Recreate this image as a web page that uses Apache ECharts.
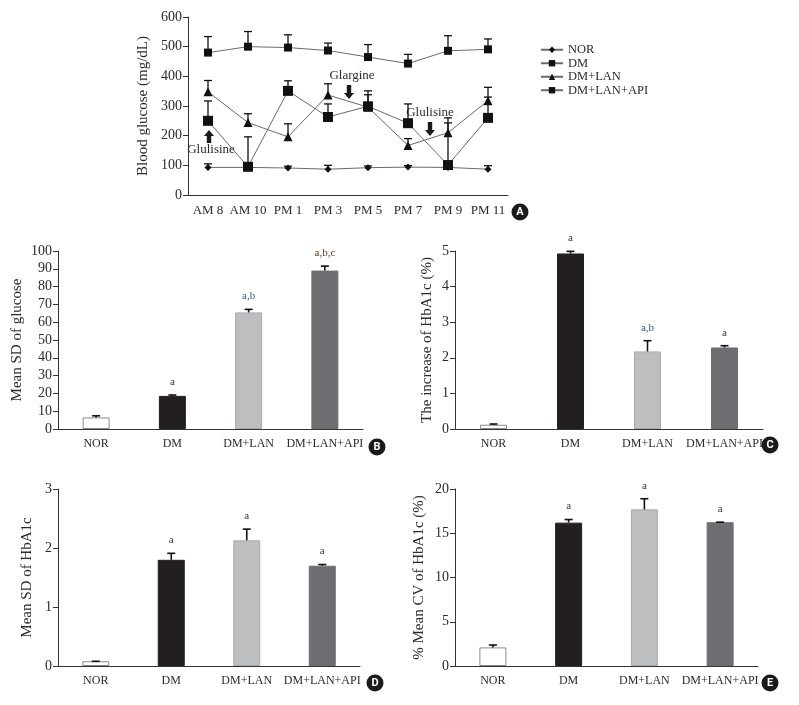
<!DOCTYPE html>
<html lang="en">
<head>
<meta charset="UTF-8">
<title>Glucose and HbA1c</title>
<style>
  html, body { margin: 0; padding: 0; background: #fff; }
  #main { width: 799px; height: 705px; }
</style>
<script src="https://cdn.jsdelivr.net/npm/echarts@6/dist/echarts.min.js"></script>
</head>
<body>
<div id="main"></div>
<script>
// A: daily glucose profile (mean and top of error bar)
const times = ['AM 8', 'AM 10', 'PM 1', 'PM 3', 'PM 5', 'PM 7', 'PM 9', 'PM 11'];
const groups = ['NOR', 'DM', 'DM+LAN', 'DM+LAN+API'];
const norMean = [93, 93, 91, 87, 92, 94, 93, 87];
const norTop = [105, 98, 97, 100, 98, 99, 98, 99];
const dmMean = [480, 500, 497, 487, 465, 443, 486, 491];
const dmTop = [534, 551, 540, 512, 507, 474, 537, 526];
const lanMean = [348, 244, 196, 337, 296, 167, 210, 318];
const lanTop = [386, 274, 240, 375, 351, 190, 243, 363];
const apiMean = [250, 95, 351, 263, 299, 242, 101, 260];
const apiTop = [317, 196, 385, 307, 338, 307, 260, 330];

// B-E: bar panels
const sdGlucose = [6.5, 18.6, 65.5, 89];
const sdGlucoseTop = [7.4, 19.1, 67.2, 91.5];
const sdGlucoseSig = ['', 'a', 'a,b', 'a,b,c'];
const incHbA1c = [0.12, 4.93, 2.18, 2.29];
const incHbA1cTop = [0.14, 4.99, 2.48, 2.34];
const incHbA1cSig = ['', 'a', 'a,b', 'a'];
const sdHbA1c = [0.08, 1.80, 2.13, 1.70];
const sdHbA1cTop = [0.08, 1.91, 2.32, 1.72];
const sdHbA1cSig = ['', 'a', 'a', 'a'];
const cvHbA1c = [2.1, 16.2, 17.7, 16.25];
const cvHbA1cTop = [2.37, 16.55, 18.9, 16.25];
const cvHbA1cSig = ['', 'a', 'a', 'a'];

const serif = "'Liberation Serif', 'DejaVu Serif', serif";
const ink = '#2b2b2b';
const barFill = ['#ffffff', '#231f20', '#bcbec0', '#6d6e71'];
const barEdge = ['#8a8a8a', '#231f20', '#a9abae', '#6d6e71'];
const sigColor = {'a': '#3a3a3a', 'a,b': '#3b5683', 'a,b,c': '#5b3a2e'};

function errRenderer(labels, cap, width) {
  return function (params, api) {
    const x = api.value(0);
    const base = api.coord([x, api.value(1)]);
    const top = api.coord([x, api.value(2)]);
    const kids = [
      {type: 'line', shape: {x1: base[0], y1: base[1], x2: top[0], y2: top[1]},
       style: {stroke: '#111', lineWidth: width}},
      {type: 'line', shape: {x1: top[0] - cap, y1: top[1], x2: top[0] + cap, y2: top[1]},
       style: {stroke: '#111', lineWidth: width}}
    ];
    const t = labels ? labels[params.dataIndex] : '';
    if (t) {
      kids.push({type: 'text', x: top[0], y: top[1] - 13,
        style: {text: t, fill: sigColor[t] || ink, font: '11px ' + serif, align: 'center', verticalAlign: 'middle'}});
    }
    return {type: 'group', children: kids};
  };
}

function errData(mean, top) {
  return mean.map((v, i) => [i, v, top[i]]);
}

function valueAxis(grid, max, step, name, gap) {
  return {
    type: 'value', gridIndex: grid, min: 0, max: max, interval: step,
    name: name, nameLocation: 'middle', nameGap: gap,
    nameTextStyle: {fontFamily: serif, fontSize: 15, color: ink},
    axisLine: {show: true, lineStyle: {color: '#333', width: 1}},
    axisTick: {show: true, length: 5, lineStyle: {color: '#333'}},
    axisLabel: {fontFamily: serif, fontSize: 14, color: ink, margin: 6},
    splitLine: {show: false}
  };
}

function catAxis(grid, data, size) {
  return {
    type: 'category', gridIndex: grid, data: data,
    axisLine: {lineStyle: {color: '#333', width: 1}},
    axisTick: {show: false},
    axisLabel: {fontFamily: serif, fontSize: size, color: ink, interval: 0, margin: 9}
  };
}

function barPanel(idx, mean, top, sig) {
  return [
    {type: 'bar', xAxisIndex: idx, yAxisIndex: idx, barWidth: 27,
     data: mean.map((v, i) => ({value: v, itemStyle: {color: barFill[i], borderColor: barEdge[i], borderWidth: 1}}))},
    {type: 'custom', xAxisIndex: idx, yAxisIndex: idx, z: 5,
     renderItem: errRenderer(sig, 4, 1.6), data: errData(mean, top)}
  ];
}

const lineStyle = {color: '#6a6a6a', width: 1};
const symbols = {'NOR': ['diamond', 7], 'DM': ['rect', 8], 'DM+LAN': ['triangle', 9], 'DM+LAN+API': ['rect', 10]};
function linePanel(name, mean) {
  return {type: 'line', name: name, xAxisIndex: 0, yAxisIndex: 0, data: mean, z: 4,
    symbol: symbols[name][0], symbolSize: symbols[name][1],
    itemStyle: {color: '#111'}, lineStyle: lineStyle};
}

function badge(letter, x, y) {
  return {type: 'group', x: x, y: y, children: [
    {type: 'circle', shape: {cx: 0, cy: 0, r: 8.5}, style: {fill: '#1a1a1a'}},
    {type: 'text', x: 0, y: 0.5, style: {text: letter, fill: '#fff', font: 'bold 11px Roboto, sans-serif', align: 'center', verticalAlign: 'middle'}}
  ]};
}

function note(text, x, y) {
  return {type: 'text', x: x, y: y, style: {text: text, fill: ink, font: '13px ' + serif, align: 'center', verticalAlign: 'middle'}};
}

function arrow(x, y0, y1) {
  // y0 = tail, y1 = tip
  const dir = y1 > y0 ? 1 : -1;
  const neck = y1 - dir * 6;
  return {type: 'polygon', shape: {points: [
    [x - 2.2, y0], [x + 2.2, y0], [x + 2.2, neck], [x + 5, neck], [x, y1], [x - 5, neck], [x - 2.2, neck]
  ]}, style: {fill: '#1a1a1a'}};
}

const chart = echarts.init(document.getElementById('main'));
chart.setOption({
  animation: false,
  backgroundColor: '#fff',
  legend: {
    data: groups, orient: 'vertical', left: 535, top: 38, itemWidth: 22, itemHeight: 8, itemGap: 0,
    textStyle: {fontFamily: serif, fontSize: 12.5, lineHeight: 13.5, color: ink}
  },
  grid: [
    {left: 188, top: 17, width: 320, height: 178},
    {left: 58, top: 251, width: 305, height: 178},
    {left: 455, top: 251, width: 308, height: 178},
    {left: 58, top: 489, width: 302, height: 177},
    {left: 455, top: 489, width: 303, height: 177}
  ],
  xAxis: [
    catAxis(0, times, 13),
    catAxis(1, groups, 12),
    catAxis(2, groups, 12),
    catAxis(3, groups, 12),
    catAxis(4, groups, 12)
  ],
  yAxis: [
    valueAxis(0, 600, 100, 'Blood glucose (mg/dL)', 37),
    valueAxis(1, 100, 10, 'Mean SD of glucose', 33),
    valueAxis(2, 5, 1, 'The increase of HbA1c (%)', 20),
    valueAxis(3, 3, 1, 'Mean SD of HbA1c', 23),
    valueAxis(4, 20, 5, '% Mean CV of HbA1c (%)', 28)
  ],
  series: [
    {type: 'custom', xAxisIndex: 0, yAxisIndex: 0, z: 3, renderItem: errRenderer(null, 4, 1.3), data: errData(norMean, norTop)},
    {type: 'custom', xAxisIndex: 0, yAxisIndex: 0, z: 3, renderItem: errRenderer(null, 4, 1.3), data: errData(dmMean, dmTop)},
    {type: 'custom', xAxisIndex: 0, yAxisIndex: 0, z: 3, renderItem: errRenderer(null, 4, 1.3), data: errData(lanMean, lanTop)},
    {type: 'custom', xAxisIndex: 0, yAxisIndex: 0, z: 3, renderItem: errRenderer(null, 4, 1.3), data: errData(apiMean, apiTop)},
    linePanel('NOR', norMean),
    linePanel('DM', dmMean),
    linePanel('DM+LAN', lanMean),
    linePanel('DM+LAN+API', apiMean),
    ...barPanel(1, sdGlucose, sdGlucoseTop, sdGlucoseSig),
    ...barPanel(2, incHbA1c, incHbA1cTop, incHbA1cSig),
    ...barPanel(3, sdHbA1c, sdHbA1cTop, sdHbA1cSig),
    ...barPanel(4, cvHbA1c, cvHbA1cTop, cvHbA1cSig)
  ],
  graphic: [
    note('Glargine', 352, 76), arrow(349, 85, 99),
    note('Glulisine', 430, 113), arrow(430, 122, 136),
    note('Glulisine', 211, 150), arrow(209, 143, 130),
    badge('A', 520, 212),
    badge('B', 377, 447),
    badge('C', 770, 445),
    badge('D', 375, 683),
    badge('E', 770, 683)
  ]
});
</script>
</body>
</html>
